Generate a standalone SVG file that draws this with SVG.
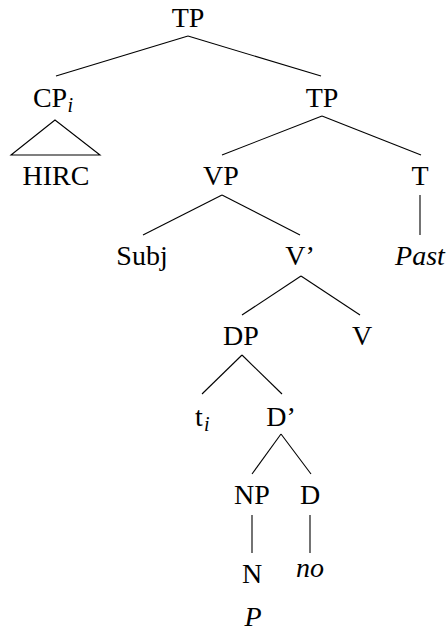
<svg xmlns="http://www.w3.org/2000/svg" width="448" height="632" viewBox="0 0 448 632" font-family="'Liberation Serif', serif">
<style>
text{font-family:'Liberation Serif',serif;font-size:28px;fill:#000;text-anchor:middle}
.it{font-style:italic}
.sub{font-size:20px;font-style:italic;text-anchor:start}
.e{stroke:#000;stroke-width:1.1;fill:none}
</style>
<rect width="448" height="632" fill="#fff"/>
<g id="connectors">
<line class="e" x1="188" y1="36" x2="56" y2="76"/>
<line class="e" x1="188" y1="36" x2="321" y2="76"/>
<polygon class="e" points="55,120 11,155 100,155"/>
<line class="e" x1="322" y1="116" x2="222" y2="155"/>
<line class="e" x1="322" y1="116" x2="421" y2="155"/>
<line class="e" x1="222" y1="195" x2="143" y2="235"/>
<line class="e" x1="222" y1="195" x2="300" y2="235"/>
<line class="e" x1="420" y1="195" x2="420" y2="235"/>
<line class="e" x1="301" y1="276" x2="242" y2="315"/>
<line class="e" x1="301" y1="276" x2="360" y2="315"/>
<line class="e" x1="242" y1="355" x2="202" y2="394"/>
<line class="e" x1="242" y1="355" x2="282" y2="394"/>
<line class="e" x1="281" y1="434" x2="252" y2="474"/>
<line class="e" x1="281" y1="434" x2="311" y2="474"/>
<line class="e" x1="252" y1="515" x2="252" y2="553"/>
<line class="e" x1="310" y1="515" x2="310" y2="553"/>
</g>
<g id="n-tp"><text x="188" y="27">TP</text></g>
<g id="n-cp"><text x="50" y="107">CP</text><text class="sub" x="67.5" y="112">i</text></g>
<g id="n-hirc"><text x="56" y="185">HIRC</text></g>
<g id="n-tp2"><text x="322" y="107">TP</text></g>
<g id="n-vp"><text x="221" y="185">VP</text></g>
<g id="n-t"><text x="420" y="185">T</text></g>
<g id="n-subj"><text x="142" y="265">Subj</text></g>
<g id="n-vbar"><text x="300" y="265">V’</text></g>
<g id="n-past"><text class="it" x="420" y="265">Past</text></g>
<g id="n-dp"><text x="241" y="345">DP</text></g>
<g id="n-v"><text x="362" y="345">V</text></g>
<g id="n-ti"><text x="199" y="426">t</text><text class="sub" x="204" y="431">i</text></g>
<g id="n-dbar"><text x="281" y="426">D’</text></g>
<g id="n-np"><text x="252" y="504">NP</text></g>
<g id="n-d"><text x="310" y="504">D</text></g>
<g id="n-n"><text x="252" y="583">N</text></g>
<g id="n-no"><text class="it" x="310" y="577">no</text></g>
<g id="n-p"><text class="it" x="253" y="626">P</text></g>
</svg>
